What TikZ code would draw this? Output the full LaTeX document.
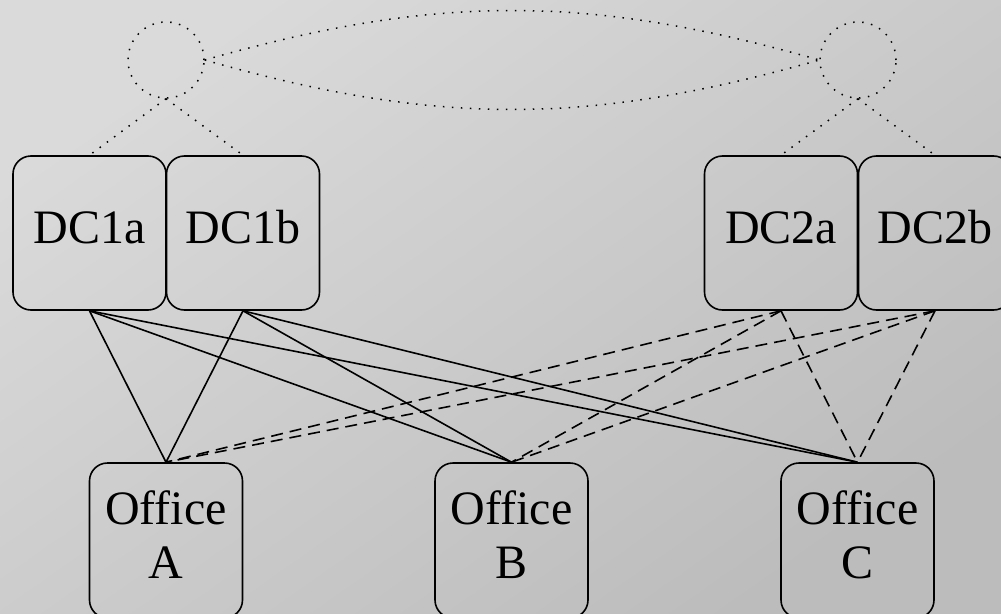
\documentclass[tikz,border=0pt]{standalone}
\usepackage{fontspec}
\setmainfont{Liberation Serif}
\usetikzlibrary{calc}
\definecolor{bglight}{RGB}{218,218,218}
\definecolor{bgdark}{RGB}{188,188,188}
\tikzset{
  site/.style={draw, line width=1.6pt, rounded corners=18pt, inner sep=0pt,
    minimum width=153pt, minimum height=154pt},
  office/.style={site, minimum height=155pt},
  label/.style={inner sep=0pt, font=\fontsize{48}{54}\selectfont, align=center},
  cloud/.style={draw, circle, minimum size=76pt, inner sep=0pt, line width=1.5pt,
    dash pattern=on 1.5pt off 7.5pt},
  wan/.style={line width=1.5pt, dash pattern=on 1.5pt off 7.5pt},
  primary/.style={line width=1.6pt},
  backup/.style={line width=1.6pt, dash pattern=on 12pt off 7pt},
}
\begin{document}
\begin{tikzpicture}[x=1pt, y=-1pt]
  % canvas with soft grey gradient
  \useasboundingbox (0,0) rectangle (1001,613);
  \shade[top color=bglight, bottom color=bgdark, shading angle=35]
    (0,0) rectangle (1001,613);
  \clip (0,0) rectangle (1001,613);

  % data-centre pairs
  \node[site] (dc1a) at (89.5,233) {};
  \node[site] (dc1b) at (243,233) {};
  \node[site] (dc2a) at (781,233) {};
  \node[site] (dc2b) at (935,233) {};
  \node[label, anchor=base] (t1a) at (89.5,243) {DC1a};
  \node[label, anchor=base] (t1b) at (243,243) {DC1b};
  \node[label, anchor=base] (t2a) at (781,243) {DC2a};
  \node[label, anchor=base] (t2b) at (935,243) {DC2b};

  % branch offices
  \node[office] (oa) at (166,540.5) {};
  \node[office] (ob) at (511.5,540.5) {};
  \node[office] (oc) at (857.5,540.5) {};
  \node[label, anchor=north] (toa) at (166,490) {Office\\A};
  \node[label, anchor=north] (tob) at (511.5,490) {Office\\B};
  \node[label, anchor=north] (toc) at (857.5,490) {Office\\C};

  % provider clouds and the link between them
  \node[cloud] (c1) at (166,60) {};
  \node[cloud] (c2) at (858,60) {};
  \draw[wan] (c1.east) .. controls ($(c1.east)+(232,-66)$) and ($(c2.west)+(-232,-66)$) .. (c2.west);
  \draw[wan] (c1.east) .. controls ($(c1.east)+(232,66)$) and ($(c2.west)+(-232,66)$) .. (c2.west);
  \draw[wan] (c1.south) -- (dc1a.north);
  \draw[wan] (c1.south) -- (dc1b.north);
  \draw[wan] (c2.south) -- (dc2a.north);
  \draw[wan] (c2.south) -- (dc2b.north);

  % primary links from DC1
  \foreach \o in {oa,ob,oc} {
    \draw[primary] (dc1a.south) -- (\o.north);
    \draw[primary] (dc1b.south) -- (\o.north);
  }
  % backup links from DC2
  \foreach \o in {oa,ob,oc} {
    \draw[backup] (dc2a.south) -- (\o.north);
    \draw[backup] (dc2b.south) -- (\o.north);
  }
\end{tikzpicture}
\end{document}
